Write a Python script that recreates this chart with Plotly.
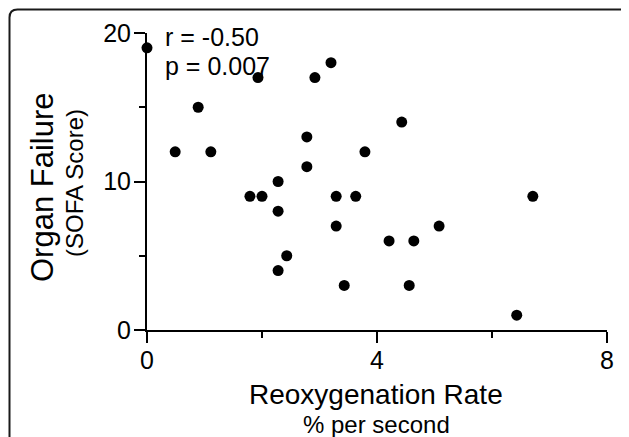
import plotly.graph_objects as go

reoxygenation_rate = [0.0, 0.49, 0.89, 1.11, 1.79, 2.0, 1.93, 2.28, 2.28, 2.43, 2.28,
                      2.78, 2.78, 2.92, 3.2, 4.43, 3.79, 3.29, 3.63, 6.71, 3.29, 5.08,
                      4.21, 4.64, 3.43, 4.56, 6.43]
sofa_score = [19, 12, 15, 12, 9, 9, 17, 10, 8, 5, 4,
              13, 11, 17, 18, 14, 12, 9, 9, 9, 7, 7,
              6, 6, 3, 3, 1]
x_tickvals = [0, 4, 8]
x_ticktext = ["0", "4", "8"]
y_tickvals = [0, 10, 20]
y_ticktext = ["0", "10", "20"]
stats_text = ["r = -0.50", "p = 0.007"]

# the page body adds an 8px margin; work in page pixels and shift
OFF = 8
W, H = 629 - OFF, 437 - OFF
ML, MR, MT, MB = 147 - OFF, 22, 33 - OFF, 107
PW, PH = W - ML - MR, H - MT - MB
FONT = "Liberation Sans, Arial, sans-serif"


def px(x):
    return (x - OFF - ML) / PW


def py(y):
    return (H - MB - (y - OFF)) / PH


fig = go.Figure()
fig.add_trace(go.Scatter(
    x=reoxygenation_rate, y=sofa_score, mode="markers",
    marker=dict(size=11, color="black"), cliponaxis=False, showlegend=False,
))

axis_common = dict(
    showline=True, linecolor="black", linewidth=2, showgrid=False, zeroline=False,
    ticks="outside", tickcolor="black", tickwidth=2, ticklen=11,
    tickfont=dict(family=FONT, size=25, color="black"),
)
fig.update_xaxes(range=[0, 8], tickvals=x_tickvals, ticktext=x_ticktext,
                 ticklabelstandoff=-4,
                 minor=dict(tickvals=[2, 6], ticks="outside", ticklen=6, tickwidth=2, tickcolor="black"),
                 **axis_common)
fig.update_yaxes(range=[0, 20], tickvals=y_tickvals, ticktext=y_ticktext,
                 ticklabelstandoff=-2,
                 minor=dict(tickvals=[5, 15], ticks="outside", ticklen=6, tickwidth=2, tickcolor="black"),
                 **axis_common)

ann = []
ann.append(dict(text="Reoxygenation Rate", x=px(376), y=py(394), font=dict(size=28)))
ann.append(dict(text="% per second", x=px(376), y=py(424), font=dict(size=24)))
ann.append(dict(text="Organ Failure", x=px(42), y=py(187), textangle=-90, font=dict(size=31)))
ann.append(dict(text="(SOFA Score)", x=px(75), y=py(183), textangle=-90, font=dict(size=24)))
ann.append(dict(text=stats_text[0], x=px(163), y=py(37), xanchor="left", font=dict(size=25)))
ann.append(dict(text=stats_text[1], x=px(163), y=py(66), xanchor="left", font=dict(size=25)))
for a in ann:
    a.setdefault("xanchor", "center")
    a.update(xref="paper", yref="paper", yanchor="middle", showarrow=False)
    a["font"].update(family=FONT, color="black")
fig.update_layout(annotations=ann)

# rounded border frame
L, T, R, B, r = 9.5, 9.5, 629.5, 460.0, 8
path = (f"M {px(L)},{py(B)} L {px(L)},{py(T + r)} Q {px(L)},{py(T)} {px(L + r)},{py(T)} "
        f"L {px(R - r)},{py(T)} Q {px(R)},{py(T)} {px(R)},{py(T + r)} L {px(R)},{py(B)}")
fig.add_shape(type="path", path=path, xref="paper", yref="paper",
              line=dict(color="#1a1a1a", width=2))

fig.update_layout(
    width=W, height=H, margin=dict(l=ML, r=MR, t=MT, b=MB, pad=0),
    plot_bgcolor="white", paper_bgcolor="white",
    font=dict(family=FONT, color="black"),
)
fig.write_html("out.html")
